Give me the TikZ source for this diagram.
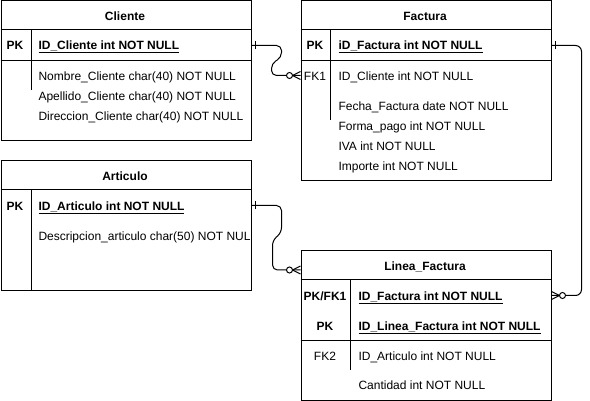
\documentclass[tikz,border=0pt]{standalone}
\usepackage{fontspec}
\setmainfont{Liberation Sans}
\usetikzlibrary{positioning}
\usetikzlibrary{decorations.markings}

\newcommand{\erfont}{\fontsize{12}{14}\selectfont}

\tikzset{
  entity/.style={draw, rectangle, anchor=north west, minimum width=250pt, inner sep=0pt},
  row/.style={rectangle, anchor=north west, minimum width=250pt, minimum height=30pt, inner sep=0pt},
  title/.style={font=\erfont\bfseries, text height=10pt, text depth=1.4pt, inner sep=0pt},
  keyf/.style={text height=10pt, text depth=1.4pt, inner sep=0pt},
  field/.style={anchor=west, text height=10pt, text depth=1.4pt, inner sep=0pt},
  one/.style={postaction={decorate, decoration={markings,
    mark=at position 4pt with {\draw (0,-4pt) -- (0,4pt);}}}},
  zeromany/.style={postaction={decorate, decoration={markings,
    mark=at position 1 with {\draw (-8pt,0) -- (0,4pt) (-8pt,0) -- (0,-4pt);
      \draw[fill=white] (-11pt,0) circle (3pt);}}}},
}

\begin{document}
\begin{tikzpicture}[x=1pt, y=-1pt, font=\erfont, line width=1pt]
\useasboundingbox (0,0) rectangle (590,401);

% Cliente
\node[entity, minimum height=140pt] (cliente) at (0.5,0.5) {};
\node[row] (clientepk) at (0.5,30) {};
\draw (clientepk.north west) -- (clientepk.north east)
      (clientepk.south west) -- (clientepk.south east);
\draw ([xshift=31pt]clientepk.north west) -- ++(0,60);
\node[title] (clientett) at (125,16) {Cliente};
\node[keyf, font=\erfont\bfseries] (clientek) at (15,45) {PK};
\node[field, font=\erfont\bfseries] (clienteid) at (38,45) {\underline{ID\_Cliente int NOT NULL}};
\foreach \txt/\y in {Nombre\_Cliente char(40) NOT NULL/76,
                     Apellido\_Cliente char(40) NOT NULL/96,
                     Direccion\_Cliente char(40) NOT NULL/116}
  \node[field] (clientef\y) at (38,\y) {\txt};

% Factura
\node[entity, minimum height=180pt] (factura) at (300.5,0.5) {};
\node[row] (facturapk) at (300.5,30) {};
\node[row] (facturafk) at (300.5,60) {};
\draw (facturapk.north west) -- (facturapk.north east)
      (facturapk.south west) -- (facturapk.south east);
\draw ([xshift=30pt]facturapk.north west) -- ++(0,90);
\node[title] (facturatt) at (425,16) {Factura};
\node[keyf, font=\erfont\bfseries] (facturak) at (315,45) {PK};
\node[field, font=\erfont\bfseries] (facturaid) at (338,45) {\underline{iD\_Factura int NOT NULL}};
\node[keyf] (facturafkk) at (315,76) {FK1};
\foreach \txt/\y in {ID\_Cliente int NOT NULL/76,
                     Fecha\_Factura date NOT NULL/106,
                     Forma\_pago int NOT NULL/126,
                     IVA int NOT NULL/146,
                     Importe int NOT NULL/166}
  \node[field] (facturaf\y) at (338,\y) {\txt};

% Articulo
\node[entity, minimum height=130pt] (articulo) at (0.5,160) {};
\node[row] (articulopk) at (0.5,190) {};
\draw (articulopk.north west) -- (articulopk.north east);
\draw ([xshift=31pt]articulopk.north west) -- ++(0,100);
\node[title] (articulott) at (125,176) {Articulo};
\node[keyf, font=\erfont\bfseries] (articulok) at (15,206) {PK};
\node[field, font=\erfont\bfseries] (articuloid) at (38,206) {\underline{ID\_Articulo int NOT NULL}};
\node[field] (articulof) at (38,236) {Descripcion\_articulo char(50) NOT NUL};

% Linea_Factura
\node[entity, minimum height=150pt] (linea) at (300.5,250) {};
\node[row] (lineapk) at (300.5,280) {};
\node[row] (lineapk2) at (300.5,310) {};
\coordinate (lineain) at (300.5,270);
\draw (lineapk.north west) -- (lineapk.north east)
      (lineapk2.south west) -- (lineapk2.south east);
\draw ([xshift=50pt]lineapk.north west) -- ++(0,90);
\node[title] (lineatt) at (425,266) {Linea\_Factura};
\node[keyf, font=\erfont\bfseries] (lineak1) at (325,296) {PK/FK1};
\node[keyf, font=\erfont\bfseries] (lineak2) at (325,326) {PK};
\node[keyf] (lineak3) at (325,356) {FK2};
\node[field, font=\erfont\bfseries] (lineaid) at (358,296) {\underline{ID\_Factura int NOT NULL}};
\node[field, font=\erfont\bfseries] (lineaid2) at (358,326) {\underline{ID\_Linea\_Factura int NOT NULL}};
\node[field] (lineaf1) at (358,356) {ID\_Articulo int NOT NULL};
\node[field] (lineaf2) at (358,385) {Cantidad int NOT NULL};

% relaciones
\draw[rounded corners=5pt, one, zeromany]
  (clientepk.east) -| ++(30,12) -- ++(-10,6) |- (facturafk.west);
\draw[rounded corners=6pt, one, zeromany]
  (facturapk.east) -- ++(30,0) |- (lineapk.east);
\draw[rounded corners=5pt, one, zeromany]
  (articulopk.east) -| ++(30,27) -- ++(-9,8) |- (lineain);
\end{tikzpicture}
\end{document}
